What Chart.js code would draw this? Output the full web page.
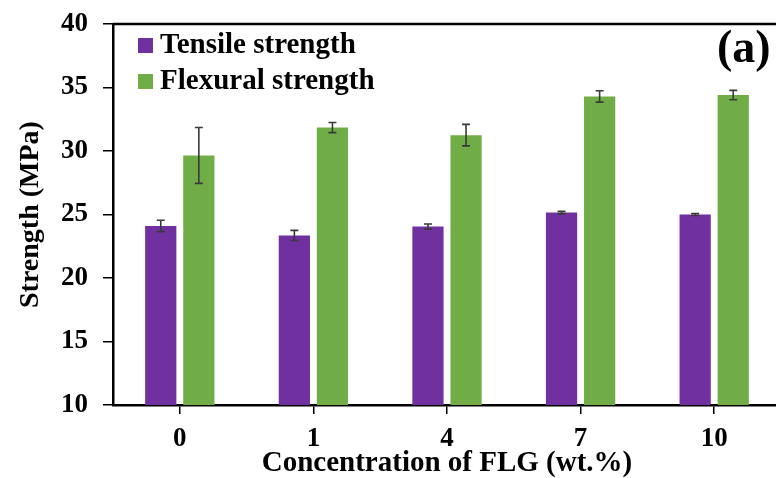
<!DOCTYPE html>
<html lang="en">
<head>
  <meta charset="UTF-8">
  <title>Strength vs FLG concentration</title>
  <script src="https://cdn.jsdelivr.net/npm/chart.js"></script>
  <style>
    html, body {
      margin: 0;
      padding: 0;
      background: #fff;
      overflow: hidden;
    }
    .chart-container {
      position: relative;
      width: 790px;
      height: 478px;
    }
  </style>
</head>
<body>
  <div class="chart-container">
    <canvas id="strengthChart"></canvas>
  </div>

  <script>
    // Values
    const concentrations = ['0', '1', '4', '7', '10'];
    const tensile = [24.1, 23.35, 24.05, 25.15, 25.0];
    const tensileErr = [0.45, 0.4, 0.2, 0.1, 0.08];
    const flexural = [29.65, 31.85, 31.25, 34.3, 34.4];
    const flexuralErr = [2.2, 0.4, 0.85, 0.45, 0.37];
    const yTicks = [10, 15, 20, 25, 30, 35, 40];

    const serif = "'Liberation Serif', 'Times New Roman', serif";

    // Error bars drawn from the same scales as the bars
    const errorBars = {
      id: 'errorBars',
      afterDatasetsDraw(chart) {
        const ctx = chart.ctx;
        const y = chart.scales.y;
        ctx.save();
        ctx.strokeStyle = '#3a3a3a';
        ctx.lineWidth = 1.6;
        chart.data.datasets.forEach((ds, di) => {
          const meta = chart.getDatasetMeta(di);
          meta.data.forEach((bar, i) => {
            const v = ds.data[i];
            const e = ds.errors[i];
            const top = y.getPixelForValue(v + e);
            const bottom = y.getPixelForValue(v - e);
            ctx.beginPath();
            ctx.moveTo(bar.x, top);
            ctx.lineTo(bar.x, bottom);
            ctx.moveTo(bar.x - 4, top);
            ctx.lineTo(bar.x + 4, top);
            ctx.moveTo(bar.x - 4, bottom);
            ctx.lineTo(bar.x + 4, bottom);
            ctx.stroke();
          });
        });
        ctx.restore();
      }
    };

    // Legend inside the plot, top left, plus the panel tag and top frame line
    const decorations = {
      id: 'decorations',
      afterDraw(chart) {
        const ctx = chart.ctx;
        const area = chart.chartArea;
        ctx.save();
        ctx.strokeStyle = '#000';
        ctx.lineWidth = 2.5;
        ctx.beginPath();
        ctx.moveTo(area.left, area.top);
        ctx.lineTo(area.right, area.top);
        ctx.stroke();

        ctx.font = 'bold 29px ' + serif;
        ctx.textBaseline = 'middle';
        chart.data.datasets.forEach((ds, i) => {
          const cy = area.top + 22 + i * 36;
          ctx.fillStyle = ds.backgroundColor;
          ctx.fillRect(area.left + 25, cy - 8, 15, 15);
          ctx.fillStyle = '#000';
          ctx.fillText(ds.label, area.left + 47, cy);
        });

        ctx.font = 'bold 46px ' + serif;
        ctx.textAlign = 'left';
        ctx.textBaseline = 'alphabetic';
        ctx.fillText('(a)', 717, 62);
        ctx.restore();
      }
    };

    const ctx = document.getElementById('strengthChart').getContext('2d');
    new Chart(ctx, {
      type: 'bar',
      data: {
        labels: concentrations,
        datasets: [
          {
            label: 'Tensile strength',
            data: tensile,
            errors: tensileErr,
            backgroundColor: '#7030A0',
            categoryPercentage: 0.57,
            barPercentage: 0.82
          },
          {
            label: 'Flexural strength',
            data: flexural,
            errors: flexuralErr,
            backgroundColor: '#70AD47',
            categoryPercentage: 0.57,
            barPercentage: 0.82
          }
        ]
      },
      options: {
        responsive: true,
        maintainAspectRatio: false,
        animation: false,
        layout: {
          padding: { left: 0, right: 9, top: 24, bottom: 0 }
        },
        plugins: {
          legend: { display: false },
          tooltip: { enabled: false }
        },
        scales: {
          x: {
            grid: {
              display: true,
              offset: false,
              drawOnChartArea: false,
              color: '#000',
              tickColor: '#000',
              tickLength: 9,
              lineWidth: 1.5
            },
            border: { color: '#000', width: 2.5 },
            ticks: {
              color: '#000',
              padding: 9,
              font: { family: serif, size: 27, weight: 'bold' }
            },
            title: {
              display: true,
              text: 'Concentration of FLG (wt.%)',
              color: '#000',
              padding: { top: 0, bottom: -3 },
              font: { family: serif, size: 29, weight: 'bold' }
            },
            afterFit(scale) {
              scale.height = 73;
            }
          },
          y: {
            min: 10,
            max: 40,
            afterBuildTicks(scale) {
              scale.ticks = yTicks.map(v => ({ value: v }));
            },
            grid: {
              drawOnChartArea: false,
              color: '#000',
              tickColor: '#000',
              tickLength: 10,
              lineWidth: 1.5
            },
            border: { color: '#000', width: 2.5 },
            ticks: {
              color: '#000',
              padding: 15,
              font: { family: serif, size: 27, weight: 'bold' }
            },
            title: {
              display: true,
              text: 'Strength (MPa)',
              color: '#000',
              padding: { top: 14, bottom: 0 },
              font: { family: serif, size: 28, weight: 'bold' }
            },
            afterFit(scale) {
              scale.width = 113;
              scale.paddingTop = 0;
              scale.paddingBottom = 0;
            }
          }
        }
      },
      plugins: [errorBars, decorations]
    });
  </script>
</body>
</html>
